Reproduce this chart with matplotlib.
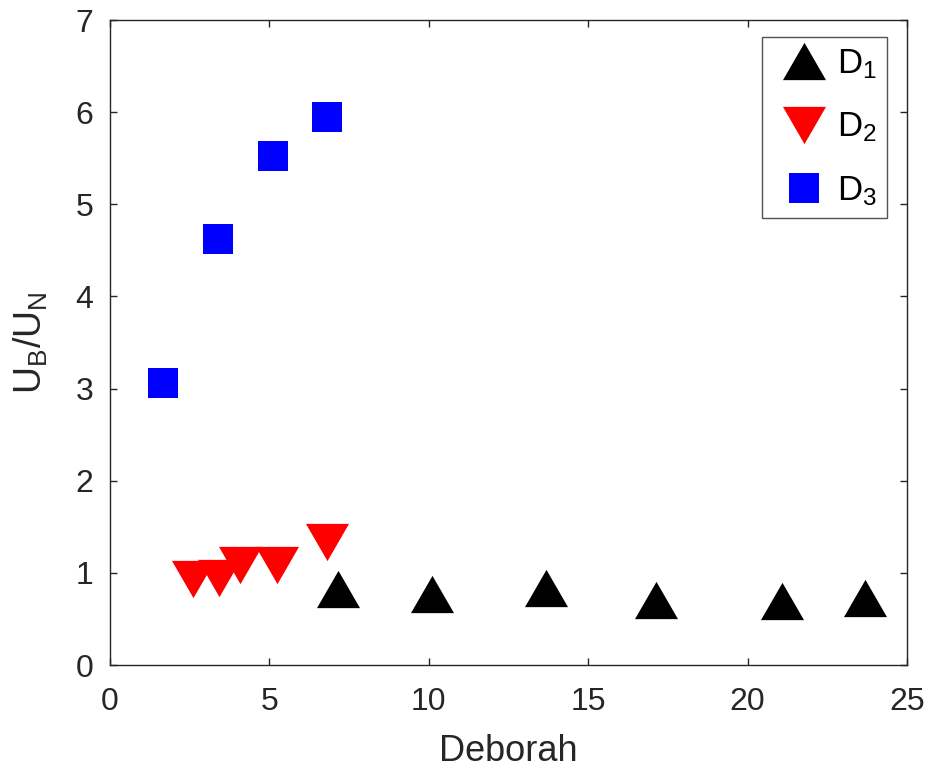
import matplotlib.pyplot as plt
from matplotlib.path import Path

plt.rcParams["font.family"] = ["Liberation Sans", "DejaVu Sans"]
plt.rcParams["mathtext.default"] = "regular"

# Deborah number vs velocity ratio for the three geometries
d1_x = [7.15, 10.09, 13.69, 17.14, 21.07, 23.67]
d1_y = [0.82, 0.77, 0.84, 0.71, 0.69, 0.73]
d2_x = [2.59, 3.41, 4.07, 5.24, 6.81]
d2_y = [0.93, 0.94, 1.08, 1.09, 1.33]
d3_x = [1.66, 3.39, 5.12, 6.81]
d3_y = [3.06, 4.62, 5.52, 5.95]
labels = ["$D_1$", "$D_2$", "$D_3$"]

text_color = "#262626"
tri_up = Path([(-1.0, -0.866), (1.0, -0.866), (0.0, 0.866), (-1.0, -0.866)])
tri_down = Path([(-1.0, 0.866), (1.0, 0.866), (0.0, -0.866), (-1.0, 0.866)])

fig = plt.figure(figsize=(9.32, 7.73), dpi=100)
ax = fig.add_axes([0.118, 0.1397, 0.8552, 0.8344])

ax.plot(d1_x, d1_y, linestyle="none", marker=tri_up, markersize=31,
        color="black", markeredgewidth=0, label=labels[0])
ax.plot(d2_x, d2_y, linestyle="none", marker=tri_down, markersize=31,
        color="red", markeredgewidth=0, label=labels[1])
ax.plot(d3_x, d3_y, linestyle="none", marker="s", markersize=21,
        color="blue", markeredgewidth=0, label=labels[2])

ax.set_xlim(0, 25)
ax.set_ylim(0, 7)
ax.set_xticks([0, 5, 10, 15, 20, 25])
ax.set_yticks(range(8))

for side in ax.spines.values():
    side.set_color(text_color)
    side.set_linewidth(1.0)
ax.tick_params(direction="in", length=5, width=1.0, colors=text_color,
               labelsize=23, top=True, right=True)
ax.tick_params(axis="x", pad=16)
ax.tick_params(axis="y", pad=12)

ax.set_xlabel("Deborah", fontsize=26, color=text_color, labelpad=12)
ax.set_ylabel(r"$U_B/U_N$", fontsize=27, color=text_color, labelpad=18)

leg = ax.legend(loc="upper right", bbox_to_anchor=(0.975, 0.9736), fontsize=25,
                frameon=True, fancybox=False, edgecolor=text_color,
                handlelength=1.8, handletextpad=0.05, labelspacing=0.85,
                borderpad=0.3, borderaxespad=0)
leg.get_frame().set_linewidth(1.0)

fig.savefig("out.png", dpi=100)
